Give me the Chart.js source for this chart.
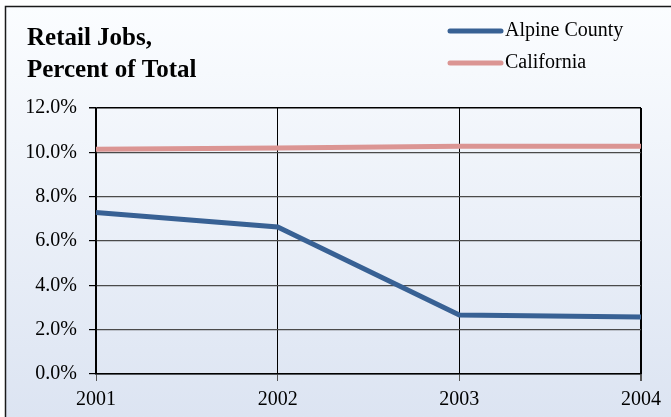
<!DOCTYPE html>
<html>
<head>
<meta charset="utf-8">
<script src="https://cdn.jsdelivr.net/npm/chart.js@4.4.1/dist/chart.umd.min.js"></script>
<style>
  body { margin: 0; background: #fff; }
  canvas { display: block; }
</style>
</head>
<body>
<canvas id="retailChart" width="671" height="417"></canvas>
<script>
// Data
const years = ['2001', '2002', '2003', '2004'];
const alpineCounty = [7.29, 6.63, 2.66, 2.57];
const california = [10.14, 10.19, 10.28, 10.27];
const titleLines = ['Retail Jobs,', 'Percent of Total'];

const serif = "'Liberation Serif', 'Times New Roman', serif";
Chart.defaults.font.family = serif;
Chart.defaults.color = '#000';

// Background gradient, outer frame, title and legend
const framePlugin = {
    id: 'frame',
    beforeDraw(chart) {
        const ctx = chart.ctx;
        ctx.save();
        ctx.fillStyle = '#fff';
        ctx.fillRect(0, 0, chart.width, chart.height);
        let grad = ctx.createLinearGradient(0, 6, 0, chart.height);
        grad.addColorStop(0, '#fbfdff');
        grad.addColorStop(1, '#dce4f2');
        ctx.fillStyle = grad;
        ctx.fillRect(6, 7, chart.width, chart.height);
        ctx.strokeStyle = '#1a1a1a';
        ctx.lineWidth = 1.5;
        ctx.strokeRect(5.5, 6.5, chart.width + 20, chart.height + 20);
        ctx.restore();
    },
    afterDraw(chart) {
        const ctx = chart.ctx;
        ctx.save();
        // title
        ctx.fillStyle = '#000';
        ctx.font = 'bold 25px ' + serif;
        ctx.textAlign = 'left';
        ctx.textBaseline = 'alphabetic';
        ctx.fillText(titleLines[0], 27, 45);
        ctx.fillText(titleLines[1], 27, 77);
        // legend
        ctx.font = '20px ' + serif;
        ctx.textBaseline = 'middle';
        chart.data.datasets.forEach((ds, i) => {
            let y = 31 + i * 32;
            ctx.strokeStyle = ds.borderColor;
            ctx.lineWidth = 5;
            ctx.lineCap = 'round';
            ctx.beginPath();
            ctx.moveTo(450, y);
            ctx.lineTo(501, y);
            ctx.stroke();
            ctx.fillText(ds.label, 505, y);
        });
        ctx.restore();
    }
};

new Chart(document.getElementById('retailChart').getContext('2d'), {
    type: 'line',
    data: {
        labels: years,
        datasets: [{
            label: 'Alpine County',
            data: alpineCounty,
            borderColor: '#386194',
            borderWidth: 5,
            pointRadius: 0,
            tension: 0,
            fill: false
        }, {
            label: 'California',
            data: california,
            borderColor: '#db9593',
            borderWidth: 5,
            pointRadius: 0,
            tension: 0,
            fill: false
        }]
    },
    options: {
        responsive: false,
        animation: false,
        layout: {
            padding: { left: 0, right: 30, top: 108, bottom: 0 }
        },
        plugins: {
            legend: { display: false },
            tooltip: { enabled: false }
        },
        scales: {
            x: {
                offset: false,
                afterFit: (scale) => { scale.height = 43; },
                grid: {
                    color: '#000',
                    lineWidth: (c) => (c.index === years.length - 1 ? 2 : 1),
                    tickLength: 7,
                    tickColor: '#555'
                },
                border: { color: '#000', width: 1.5 },
                ticks: {
                    padding: 7,
                    maxRotation: 0,
                    font: { size: 20 },
                    color: '#000'
                }
            },
            y: {
                min: 0,
                max: 12,
                afterFit: (scale) => { scale.width = 96; },
                grid: {
                    color: (c) => (c.tick.value === 12 || c.tick.value === 0 ? '#000' : '#4a4a4a'),
                    lineWidth: (c) => (c.tick.value === 12 ? 1.5 : 1.2),
                    tickLength: 7,
                    tickColor: '#000'
                },
                border: { color: '#000', width: 1.5 },
                ticks: {
                    stepSize: 2,
                    padding: 12,
                    font: { size: 20 },
                    color: '#000',
                    callback: (v) => v.toFixed(1) + '%'
                }
            }
        }
    },
    plugins: [framePlugin]
});
</script>
</body>
</html>
